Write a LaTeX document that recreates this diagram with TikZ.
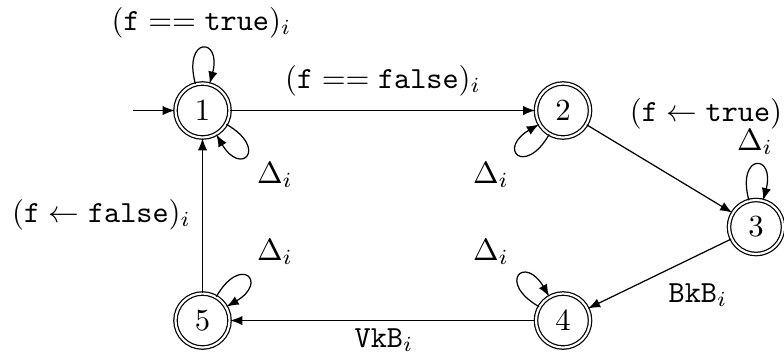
\documentclass[tikz,border=0pt]{standalone}
\usetikzlibrary{arrows}
\begin{document}
\begin{tikzpicture}[x=0.3257pt, y=-0.3257pt, >=latex,
  acc/.style={circle, draw, double, double distance=0.7pt, minimum size=17.6pt, inner sep=0pt},
  lbl/.style={anchor=base, inner sep=0pt},
  trans/.style={->}]
\useasboundingbox (0,0) rectangle (784,356);

% states
\node[acc] (s1) at (202.5,110.5) {$1$};
\node[acc] (s2) at (563,110.5) {$2$};
\node[acc] (s3) at (756,227) {$3$};
\node[acc] (s4) at (563,320.5) {$4$};
\node[acc] (s5) at (202.5,320.5) {$5$};
\coordinate (start) at (133,110.5);

% transitions
\draw[trans] (start) -- (s1);
\draw[trans] (s1) -- (s2);
\draw[trans] (s2) -- (s3);
\draw[trans] (s3) -- (s4);
\draw[trans] (s4) -- (s5);
\draw[trans] (s5) -- (s1);

% self loops
\def\lp{16pt}
\draw[trans] (s1.105) .. controls +(105:\lp) and +(75:\lp) .. (s1.75);
\draw[trans] (s1.-30) .. controls +(-30:\lp) and +(-60:\lp) .. (s1.-60);
\draw[trans] (s2.-120) .. controls +(-120:\lp) and +(-150:\lp) .. (s2.-150);
\draw[trans] (s3.105) .. controls +(105:\lp) and +(75:\lp) .. (s3.75);
\draw[trans] (s4.150) .. controls +(150:\lp) and +(120:\lp) .. (s4.120);
\draw[trans] (s5.60) .. controls +(60:\lp) and +(30:\lp) .. (s5.30);

% labels
\node[lbl] (t1) at (201.5,30) {$(\texttt{f} == \texttt{true})_i$};
\node[lbl] (t2) at (383,88) {$(\texttt{f} == \texttt{false})_i$};
\node[lbl] (t3) at (706,121) {$(\texttt{f} \leftarrow \texttt{true})$};
\node[lbl] (d3) at (755,150) {$\Delta_i$};
\node[lbl] (d1) at (275,183) {$\Delta_i$};
\node[lbl] (d2) at (491,183) {$\Delta_i$};
\node[lbl] (t5) at (101.5,222) {$(\texttt{f} \leftarrow \texttt{false})_i$};
\node[lbl] (d5) at (275,260) {$\Delta_i$};
\node[lbl] (d4) at (491,260) {$\Delta_i$};
\node[lbl] (t4) at (384,347) {$\texttt{VkB}_i$};
\node[lbl] (t3b) at (698,302) {$\texttt{BkB}_i$};
\end{tikzpicture}
\end{document}
